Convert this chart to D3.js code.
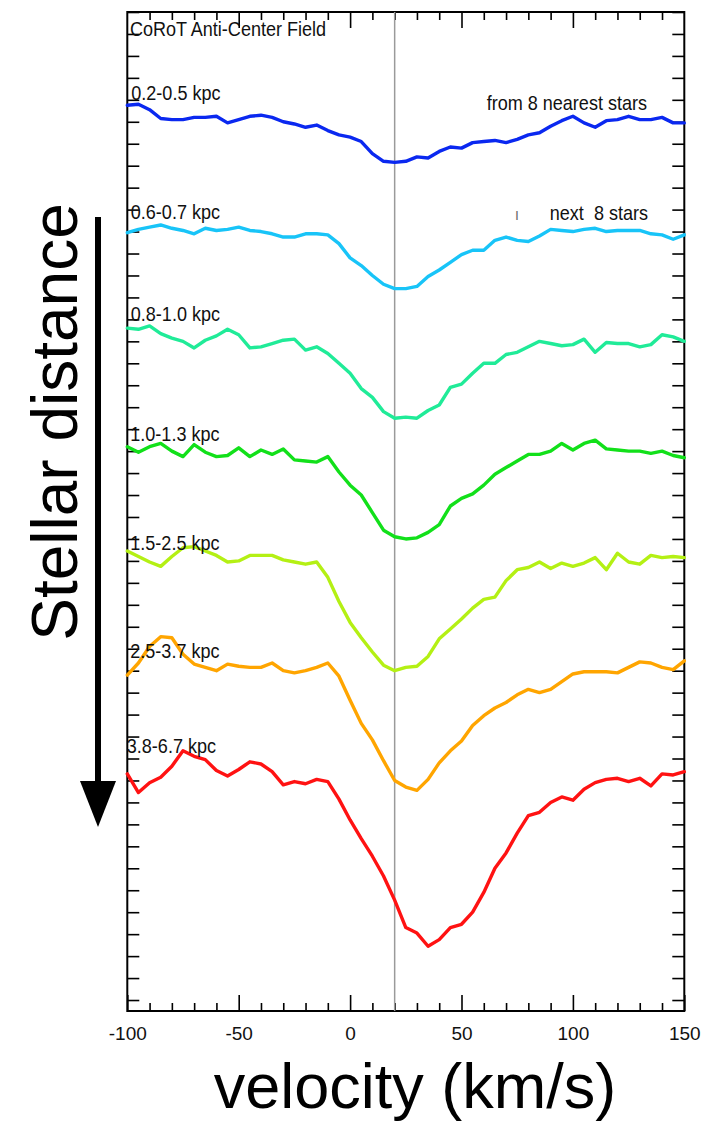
<!DOCTYPE html>
<html>
<head>
<meta charset="utf-8">
<script src="https://cdn.jsdelivr.net/npm/d3@7"></script>
<style>
  body { margin: 0; background: #fff; }
  svg { display: block; }
</style>
</head>
<body>
<div class="chart"></div>
<script>
// velocity grid (km/s)
const velocity = [-100, -95, -90, -85, -80, -75, -70, -65, -60, -55,
  -50, -45, -40, -35, -30, -25, -20, -15, -10, -5,
  0, 5, 10, 15, 20, 25, 30, 35, 40, 45,
  50, 55, 60, 65, 70, 75, 80, 85, 90, 95,
  100, 105, 110, 115, 120, 125, 130, 135, 140, 145, 150];

const distanceBins = ["0.2-0.5 kpc", "0.6-0.7 kpc", "0.8-1.0 kpc", "1.0-1.3 kpc",
  "1.5-2.5 kpc", "2.5-3.7 kpc", "3.8-6.7 kpc"];

// normalised flux of each stacked profile
const flux02 = [1.015, 1.016, 1.011, 1.003, 1.002, 1.002, 1.004, 1.004, 1.005, 0.999,
  1.002, 1.005, 1.006, 1.004, 1.000, 0.998, 0.995, 0.997, 0.992, 0.988,
  0.986, 0.982, 0.971, 0.964, 0.963, 0.964, 0.968, 0.967, 0.973, 0.977,
  0.976, 0.981, 0.982, 0.983, 0.981, 0.984, 0.988, 0.990, 0.996, 1.001,
  1.005, 0.999, 0.995, 1.001, 1.002, 1.005, 1.002, 1.002, 1.004, 0.999, 0.999];
const flux06 = [0.999, 1.002, 1.004, 1.006, 1.003, 1.001, 0.998, 1.003, 1.001, 1.002,
  1.004, 1.001, 1.000, 0.998, 0.995, 0.995, 0.998, 0.998, 0.997, 0.989,
  0.976, 0.969, 0.960, 0.952, 0.948, 0.948, 0.950, 0.959, 0.965, 0.972,
  0.979, 0.983, 0.983, 0.992, 0.995, 0.992, 0.991, 0.996, 1.002, 1.001,
  1.000, 1.002, 1.003, 1.000, 1.001, 1.001, 1.001, 0.998, 0.997, 0.993, 0.997];
const flux08 = [1.012, 1.011, 1.014, 1.007, 1.003, 1.000, 0.994, 1.001, 1.005, 1.011,
  1.006, 0.994, 0.995, 0.998, 1.001, 1.002, 0.992, 0.995, 0.989, 0.980,
  0.971, 0.957, 0.949, 0.936, 0.930, 0.931, 0.930, 0.937, 0.942, 0.958,
  0.961, 0.971, 0.980, 0.980, 0.988, 0.990, 0.995, 1.000, 0.998, 0.996,
  0.997, 1.002, 0.990, 0.999, 0.998, 0.998, 0.995, 0.997, 1.006, 1.004, 1.000];
const flux10 = [1.004, 0.999, 1.004, 1.007, 1.000, 0.995, 1.006, 0.999, 0.995, 0.996,
  1.003, 0.995, 1.001, 0.997, 1.002, 0.992, 0.991, 0.990, 0.995, 0.981,
  0.969, 0.960, 0.944, 0.928, 0.922, 0.920, 0.921, 0.926, 0.933, 0.950,
  0.957, 0.961, 0.969, 0.979, 0.985, 0.991, 0.997, 0.997, 1.000, 1.007,
  1.001, 1.007, 1.010, 1.002, 1.001, 1.000, 1.000, 0.998, 1.000, 0.996, 0.994];
const flux15 = [1.009, 1.004, 0.999, 0.995, 1.004, 1.012, 1.013, 1.009, 1.005, 0.999,
  1.000, 1.005, 1.005, 1.005, 1.001, 0.999, 0.997, 0.999, 0.985, 0.963,
  0.944, 0.930, 0.917, 0.905, 0.900, 0.903, 0.904, 0.913, 0.929, 0.938,
  0.947, 0.957, 0.965, 0.967, 0.982, 0.992, 0.994, 0.999, 0.993, 0.998,
  0.995, 0.998, 1.003, 0.992, 1.007, 0.999, 0.997, 1.005, 1.003, 1.004, 1.003];
const flux25 = [0.996, 1.007, 1.022, 1.031, 1.030, 1.015, 1.006, 1.003, 1.000, 1.006,
  1.004, 1.003, 1.003, 1.007, 1.000, 0.998, 1.000, 1.003, 1.007, 0.995,
  0.973, 0.952, 0.937, 0.918, 0.900, 0.894, 0.891, 0.901, 0.916, 0.927,
  0.936, 0.950, 0.959, 0.966, 0.971, 0.978, 0.983, 0.980, 0.983, 0.990,
  0.997, 0.999, 0.999, 0.999, 0.998, 1.003, 1.008, 1.007, 1.003, 1.001, 1.009];
const flux38 = [1.006, 0.989, 0.998, 1.003, 1.013, 1.027, 1.022, 1.019, 1.009, 1.004,
  1.010, 1.017, 1.015, 1.008, 0.996, 0.999, 0.997, 1.001, 0.999, 0.983,
  0.964, 0.947, 0.931, 0.913, 0.891, 0.866, 0.861, 0.849, 0.855, 0.866,
  0.869, 0.880, 0.898, 0.920, 0.934, 0.952, 0.968, 0.971, 0.980, 0.985,
  0.982, 0.992, 0.998, 1.001, 1.002, 0.999, 1.002, 0.995, 1.006, 1.005, 1.008];

const profiles = [flux02, flux06, flux08, flux10, flux15, flux25, flux38];
const colors = ["#0a28f0", "#18c4f8", "#20eb98", "#12e01a", "#b4f014", "#ffa500", "#ff1212"];

const xMajorTicks = [-100, -50, 0, 50, 100, 150];
const offsetStep = 0.1;   // vertical shift between stacked profiles
const restVelocity = 20;  // grey reference line

const width = 725, height = 1123;
const plot = { left: 127.3, right: 684.3, top: 12, bottom: 1011 };

const svg = d3.select(".chart").append("svg")
  .attr("width", width)
  .attr("height", height);

const x = d3.scaleLinear().domain([-100, 150]).range([plot.left, plot.right]);
const y = d3.scaleLinear().domain([0.19, 1.1]).range([plot.bottom, plot.top]);

const minorX = d3.range(-100, 151, 10).filter(v => xMajorTicks.indexOf(v) < 0);
const yTicks = d3.range(0, 46).map(i => +(0.2 + i * 0.02).toFixed(2));

function clean(g) {
  g.select(".domain").remove();
  g.selectAll(".tick line").attr("stroke", "#000").attr("stroke-width", 1.6);
}

// bottom axis
svg.append("g")
  .attr("transform", `translate(0,${plot.bottom})`)
  .call(d3.axisBottom(x).tickValues(minorX).tickSize(-8).tickFormat(""))
  .call(clean);
svg.append("g")
  .attr("transform", `translate(0,${plot.bottom})`)
  .call(d3.axisBottom(x).tickValues(xMajorTicks).tickSize(-16).tickPadding(16).tickFormat(d => String(d)))
  .call(clean)
  .call(g => g.selectAll("text")
    .attr("font-family", "'Liberation Sans', Arial, sans-serif")
    .attr("font-size", 19)
    .attr("fill", "#111"));

// top axis
svg.append("g")
  .attr("transform", `translate(0,${plot.top})`)
  .call(d3.axisTop(x).tickValues(minorX).tickSize(-8).tickFormat(""))
  .call(clean);
svg.append("g")
  .attr("transform", `translate(0,${plot.top})`)
  .call(d3.axisTop(x).tickValues(xMajorTicks.slice(1, -1)).tickSize(-16).tickFormat(""))
  .call(clean);

// left and right axes
svg.append("g")
  .attr("transform", `translate(${plot.left},0)`)
  .call(d3.axisLeft(y).tickValues(yTicks).tickSize(-12).tickFormat(""))
  .call(clean);
svg.append("g")
  .attr("transform", `translate(${plot.right},0)`)
  .call(d3.axisRight(y).tickValues(yTicks).tickSize(-12).tickFormat(""))
  .call(clean);

// frame
svg.append("rect")
  .attr("x", plot.left)
  .attr("y", plot.top)
  .attr("width", plot.right - plot.left)
  .attr("height", plot.bottom - plot.top)
  .attr("fill", "none")
  .attr("stroke", "#000")
  .attr("stroke-width", 2);

// reference velocity
svg.append("line")
  .attr("x1", x(restVelocity)).attr("x2", x(restVelocity))
  .attr("y1", plot.top).attr("y2", plot.bottom)
  .attr("stroke", "#9a9a9a")
  .attr("stroke-width", 1.5);

// profiles
profiles.forEach((p, k) => {
  const line = d3.line()
    .x((d, i) => x(velocity[i]))
    .y(d => y(d - k * offsetStep));
  svg.append("path")
    .datum(p)
    .attr("d", line)
    .attr("fill", "none")
    .attr("stroke", colors[k])
    .attr("stroke-width", 3.4)
    .attr("stroke-linejoin", "round")
    .attr("stroke-linecap", "round");
});

// small narrow-looking labels
function label(txt, px, py, anchor, fill, size) {
  svg.append("text")
    .attr("transform", `translate(${px},${py}) scale(0.88,1)`)
    .attr("text-anchor", anchor || "start")
    .attr("font-family", "'Liberation Sans', Arial, sans-serif")
    .attr("font-size", size || 20.5)
    .attr("fill", fill || "#111")
    .style("white-space", "pre")
    .text(txt);
}

label("CoRoT Anti-Center Field", 130, 36);

const labelDy = [-22, -13, -20, -10, -11, -13, -27];
const labelDx = [4, 3.5, 3.5, 3, 3, 3, -0.5];
distanceBins.forEach((t, k) => {
  label(t, plot.left + labelDx[k], y(1 - k * offsetStep) + labelDy[k]);
});

label("from 8 nearest stars", 647, 110, "end");
label("next  8 stars", 648, 220, "end");
label("ı", 517, 220, "middle", "#666", 16);

// big titles
svg.append("text")
  .attr("x", 415)
  .attr("y", 1108)
  .attr("text-anchor", "middle")
  .attr("font-family", "'Liberation Sans', Arial, sans-serif")
  .attr("font-size", 63)
  .attr("fill", "#000")
  .text("velocity (km/s)");

svg.append("text")
  .attr("transform", "translate(77,422) rotate(-90)")
  .attr("text-anchor", "middle")
  .attr("font-family", "'Liberation Sans', Arial, sans-serif")
  .attr("font-size", 64)
  .attr("fill", "#000")
  .text("Stellar distance");

// distance arrow
svg.append("line")
  .attr("x1", 98).attr("x2", 98)
  .attr("y1", 217).attr("y2", 790)
  .attr("stroke", "#000")
  .attr("stroke-width", 6);
svg.append("path")
  .attr("d", "M80,781 L116,781 L98,827 Z")
  .attr("fill", "#000");
</script>
</body>
</html>
